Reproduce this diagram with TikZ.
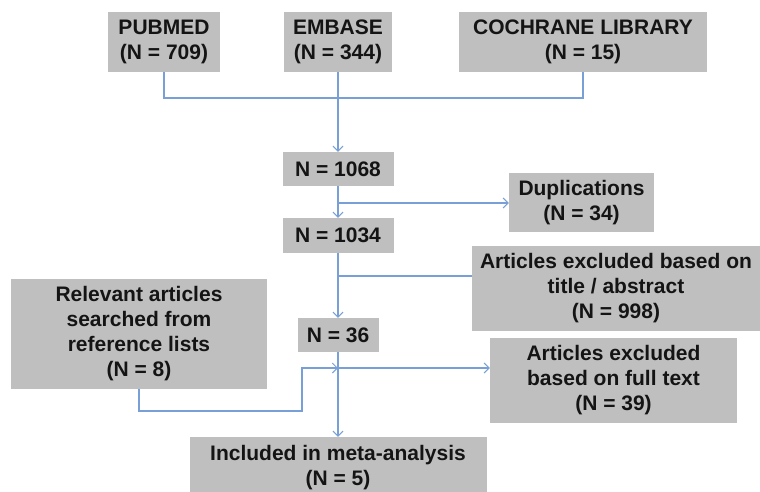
\documentclass[tikz,border=0pt]{standalone}
\usepackage{fontspec}
\setmainfont{Liberation Sans}
\usetikzlibrary{arrows.meta,calc}
\definecolor{boxgray}{RGB}{191,191,191}
\definecolor{linkblue}{RGB}{120,160,214}
\definecolor{txt}{RGB}{20,20,20}
\begin{document}
\begin{tikzpicture}[x=1pt,y=-1pt,
  box/.style={fill=boxgray,draw=none,inner sep=0pt,align=center,text=txt,
    font=\bfseries\fontsize{21}{25}\selectfont},
  link/.style={draw=linkblue,line width=1.1pt},
  arr/.style={link,-{Straight Barb[length=5pt,width=10pt,line width=1pt]}}]
\useasboundingbox (0,0) rectangle (760,491);
\clip (0,0) rectangle (760,491);
\fill[white] (0,0) rectangle (760,491);
\node[box,minimum width=112pt,minimum height=60pt] (pub) at (164,42) {PUBMED\\(N = 709)};
\node[box,minimum width=108pt,minimum height=60pt] (emb) at (338,42) {EMBASE\\(N = 344)};
\node[box,minimum width=248pt,minimum height=60pt] (coch) at (583,42) {COCHRANE LIBRARY\\(N = 15)};
\node[box,minimum width=111pt,minimum height=34pt] (n1) at (338,169) {N = 1068};
\node[box,minimum width=145pt,minimum height=59pt] (dup) at (581.5,202.5) {Duplications\\(N = 34)};
\node[box,minimum width=111pt,minimum height=35pt] (n2) at (338,235.5) {N = 1034};
\node[box,minimum width=288pt,minimum height=85pt] (ex1) at (616,288.5) {Articles excluded based on\\title / abstract\\(N = 998)};
\node[box,minimum width=256pt,minimum height=110pt] (rel) at (139,334) {Relevant articles\\searched from\\reference lists\\(N = 8)};
\node[box,minimum width=81pt,minimum height=34pt] (n3) at (338,335) {N = 36};
\node[box,minimum width=247pt,minimum height=85pt] (ex2) at (613.5,380.5) {Articles excluded\\based on full text\\(N = 39)};
\node[box,minimum width=297pt,minimum height=62pt] (inc) at (338,468) {Included in meta-analysis\\(N = 5)};
\coordinate (j1) at (338,98);
\coordinate (b1) at (338,203);
\coordinate (b2) at (338,276);
\coordinate (b3) at (338,368);
\coordinate (r1) at (139,411);
\coordinate (r2) at (302,411);
\coordinate (r3) at (302,368);
\draw[link] (pub.south) |- (j1) -| (coch.south);
\draw[arr] (emb.south) -- (n1.north);
\draw[arr] (n1.south) -- (n2.north);
\draw[arr] (b1) -- (b1 -| dup.west);
\draw[arr] (n2.south) -- (n3.north);
\draw[link] (b2) -- (b2 -| ex1.west);
\draw[arr] (n3.south) -- (inc.north);
\draw[arr] (b3) -- (b3 -| ex2.west);
\draw[arr] (rel.south) -- (r1) -- (r2) -- (r3) -- (b3);
\end{tikzpicture}
\end{document}
